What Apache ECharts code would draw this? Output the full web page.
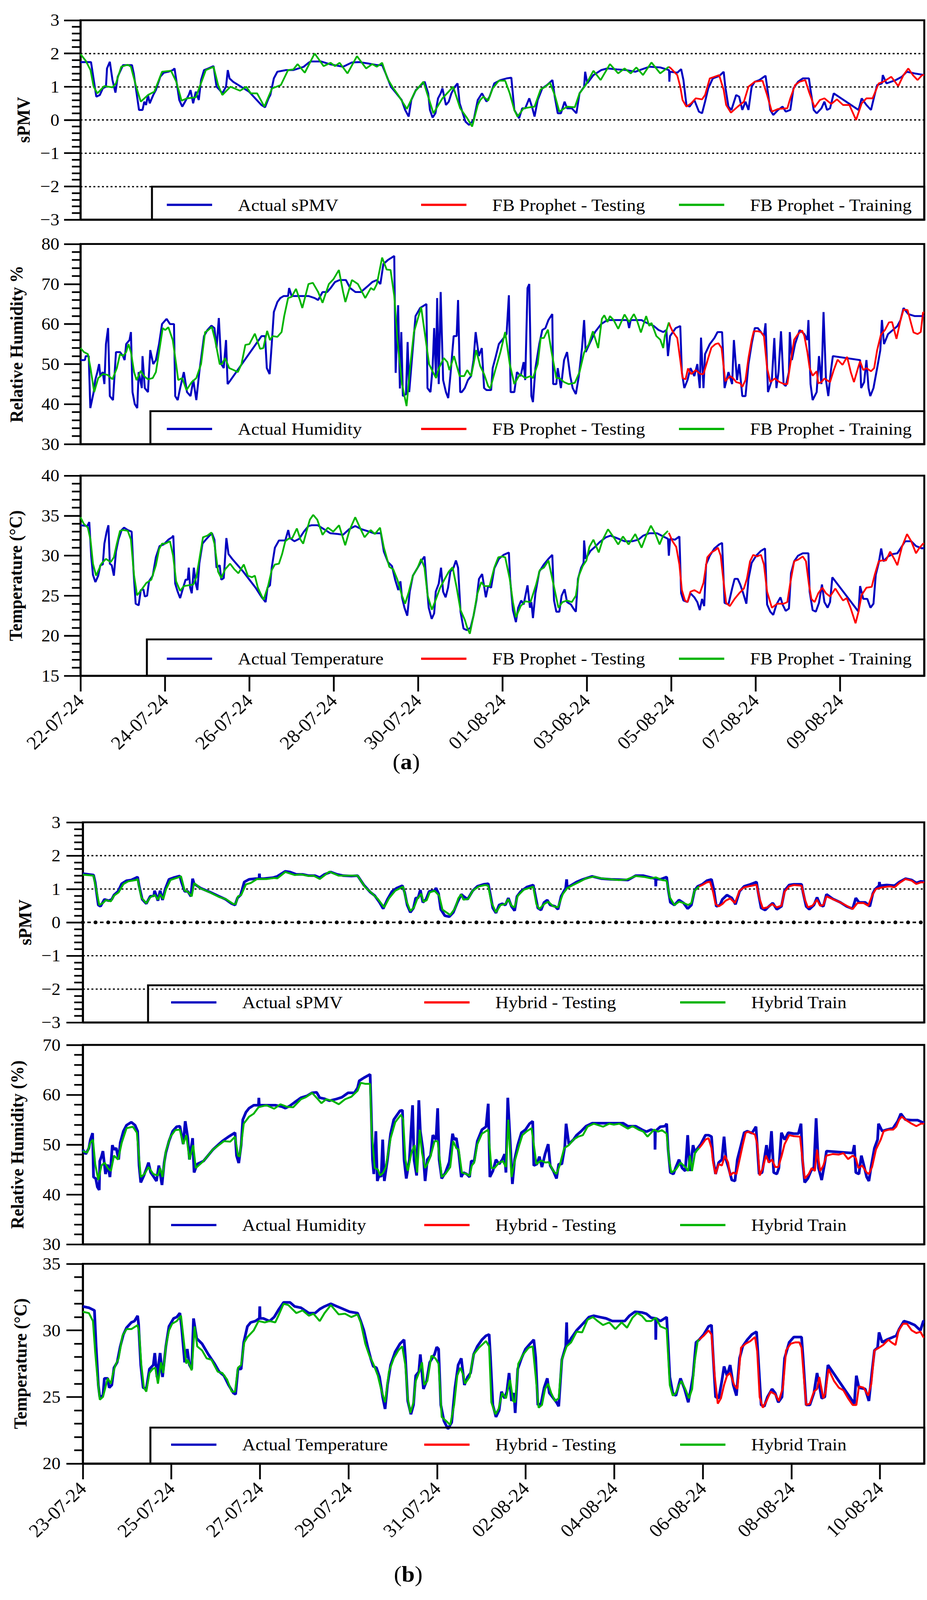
<!DOCTYPE html>
<html><head><meta charset="utf-8">
<script src="https://cdn.jsdelivr.net/npm/echarts@6/dist/echarts.min.js"></script>
<style>html,body{margin:0;padding:0;overflow:hidden;background:#fff}#c{width:2373px;height:4269px;transform-origin:0 0}</style>
</head><body><div id="c"></div>
<script>
// ---------- tick labels ----------
const tickHours = [0,48,96,144,192,240,288,336,384,432];
const datesA = ['22-07-24','24-07-24','26-07-24','28-07-24','30-07-24','01-08-24','03-08-24','05-08-24','07-08-24','09-08-24'];
const datesB = ['23-07-24','25-07-24','27-07-24','29-07-24','31-07-24','02-08-24','04-08-24','06-08-24','08-08-24','10-08-24'];

// ---------- panel (a): [hours since 22-07-24 00:00, value] ----------
const aPmvActual = [[0,1.74],[6,1.74],[9,0.70],[11,0.75],[12.7,0.95],[14.5,1.0],[15.1,1.55],[16.7,1.75],[18.2,1.2],[19.9,0.82],[21.2,1.3],[24.2,1.65],[29.3,1.65],[30.3,1.4],[33.3,0.3],[35.3,0.3],[36.3,0.55],[37.3,0.45],[38.4,0.75],[39.4,0.5],[41.4,0.75],[42.9,0.9],[45.4,1.3],[47.4,1.42],[50,1.45],[52.5,1.5],[53.5,1.55],[56.2,0.6],[57.9,0.4],[59.5,0.55],[61.6,0.75],[62.6,0.9],[64.1,0.5],[65.6,0.85],[67.3,0.6],[68.6,1.2],[70.3,1.5],[72.7,1.55],[75.7,1.62],[77.4,1.0],[79.2,0.9],[80.7,0.8],[82.8,1.0],[83.8,1.5],[84.8,1.25],[86.8,1.15],[95.9,0.85],[102.9,0.45],[105,0.38],[107,0.65],[108,0.75],[110,1.25],[112,1.45],[117,1.5],[121,1.5],[124,1.55],[127,1.6],[129.7,1.72],[131,1.76],[136.8,1.76],[142.3,1.67],[149.4,1.6],[154.4,1.73],[158.5,1.74],[163.5,1.7],[168.6,1.65],[171.6,1.65],[173.6,1.4],[176.6,1.0],[179.7,0.8],[182.7,0.6],[184.7,0.3],[186.7,0.1],[188.2,0.6],[190.8,0.9],[193.8,1.05],[195.8,1.15],[197.8,0.8],[198.8,0.3],[200.3,0.07],[201.9,0.2],[203.4,0.65],[204.9,0.8],[205.9,0.95],[207.9,0.45],[209.5,0.55],[211,0.8],[213,1.0],[214.5,1.1],[215.7,0.5],[217.5,0.2],[219,-0.05],[221,-0.15],[223.7,0.0],[226,0.6],[228.4,0.8],[231,0.55],[232.7,0.7],[235.4,1.1],[238.9,1.2],[242.4,1.25],[245.1,1.27],[246.8,0.3],[249.5,0.05],[251.3,0.35],[253,0.35],[255.3,0.65],[257.1,0.35],[258.3,0.1],[260.1,0.6],[262.7,0.95],[265.4,1.05],[268.5,1.2],[269.8,0.7],[271.5,0.2],[273.3,0.2],[275.4,0.55],[276.8,0.35],[279.5,0.35],[282.1,0.2],[283.9,0.8],[286.5,1.0],[287.1,1.45],[288.3,1.1],[291.8,1.35],[296.2,1.5],[299.8,1.55],[305.1,1.52],[310.4,1.5],[315.6,1.45],[319.2,1.52],[323.6,1.6],[329.8,1.58],[334.8,1.5],[335,1.15],[335.3,1.45],[339.5,1.42],[341.7,1.53],[343,1.2],[344.7,0.45],[346.5,0.4],[349.2,0.6],[351.8,0.25],[353.6,0.2],[355.3,0.55],[357.1,0.95],[359.7,1.25],[363.3,1.32],[365.9,1.45],[366.8,1.0],[368.6,0.4],[370.3,0.3],[373,0.75],[374.7,0.7],[376.5,0.3],[378.3,0.55],[380,0.3],[381.8,1.0],[383.6,1.15],[386.2,1.2],[389.7,1.33],[390.6,1.0],[392.4,0.3],[394.1,0.15],[396.8,0.3],[399.4,0.4],[401.2,0.25],[403.8,0.3],[405.6,0.95],[408.2,1.15],[410.9,1.25],[414.4,1.25],[415.3,0.9],[417.1,0.3],[418.8,0.2],[421.5,0.35],[423.2,0.55],[424.7,0.3],[426.4,0.35],[428.5,0.8],[442.6,0.3],[444.4,0.65],[447.1,0.45],[449.7,0.3],[451.5,0.7],[453.2,1.05],[455.9,1.1],[456.4,1.35],[458.5,1.1],[463.8,1.2],[467.3,1.3],[470,1.45],[474.4,1.4],[480,1.35]];
const aPmvTrain = [[0,1.98],[3,1.78],[5.7,1.5],[7.5,1.0],[9.6,0.8],[13.6,1.02],[18.2,0.98],[20.2,1.1],[23.2,1.6],[26.9,1.66],[28.7,1.6],[31.7,1.0],[34.3,0.55],[38.4,0.75],[42,0.85],[46.4,1.45],[51.5,1.48],[54.5,1.15],[57.5,0.58],[60.6,0.65],[65.6,0.68],[71.3,1.5],[75.7,1.6],[78.3,1.05],[80.7,0.75],[85.3,1.0],[90.8,0.88],[94.3,1.0],[96.9,0.8],[100.5,0.8],[104.6,0.4],[109,0.95],[114,1.05],[118.1,1.5],[121.1,1.52],[123.5,1.68],[127.6,1.42],[133.2,2.0],[138.3,1.62],[142.3,1.72],[144.8,1.62],[147.4,1.72],[151.9,1.4],[157.3,1.92],[162.5,1.55],[166,1.68],[168.6,1.6],[171.6,1.72],[174.6,1.25],[177.6,0.98],[180.7,0.75],[185.7,0.33],[190.3,0.85],[195.1,1.15],[200.8,0.2],[205.9,0.65],[212,1.0],[216,0.35],[220,0.05],[222.8,-0.2],[226,0.45],[227.4,0.6],[229.2,0.7],[231.9,0.58],[234.5,0.95],[238,1.18],[241.6,1.18],[244.2,0.8],[246.8,0.3],[248.6,0.1],[252.1,0.35],[255.7,0.38],[258.3,0.4],[261.8,0.92],[264.5,1.0],[267.1,1.12],[269.8,0.75],[272.4,0.25],[276.8,0.4],[281.2,0.38],[283.9,0.8],[287.4,1.05],[291.8,1.48],[295.9,1.2],[301.2,1.68],[305.9,1.4],[309.5,1.55],[313,1.4],[316.2,1.58],[320,1.35],[324.8,1.73],[329.8,1.4],[334.7,1.6]];
const aPmvTest = [[334.7,1.6],[335.9,1.55],[339.5,1.35],[341.2,1.0],[342.5,0.6],[344.7,0.4],[347.4,0.5],[350,0.65],[353.6,0.62],[355.3,0.75],[358,1.25],[363.3,1.35],[365.9,0.9],[367.3,0.45],[370,0.22],[373.9,0.4],[377.4,0.55],[380,1.0],[383.6,1.15],[388,1.18],[390.6,0.75],[393.3,0.25],[396.8,0.33],[402.1,0.35],[403.8,0.65],[406.5,1.05],[409.1,1.15],[412.3,1.2],[414.4,0.85],[417.6,0.38],[420.6,0.6],[423.2,0.65],[427.1,0.48],[430.3,0.62],[433.8,0.45],[437.4,0.45],[441.2,0.0],[444.4,0.5],[447.1,0.65],[450.6,0.65],[454.1,1.1],[456.8,1.15],[461.2,1.3],[465.2,1.02],[468.2,1.35],[470.9,1.55],[473.5,1.35],[476.2,1.2],[478.8,1.35],[480,1.35]];

const aHumActual = [[0,51],[2.5,51],[3,52],[4.7,52],[5.6,39],[7.5,43],[8.4,46],[9.6,48],[10.6,50],[11.3,47],[12.7,48],[13.6,45],[14.5,55],[15.7,59],[16.7,42],[18.5,41],[20.2,53],[22.5,53],[24.2,52],[25.1,51],[26,55],[27.9,56],[28.7,58],[29.6,43],[30.9,40],[32.3,39],[33.1,48],[34.9,44],[35.3,52],[36.6,44],[38.4,43],[39.7,53.5],[41.4,50],[42.9,51],[44.7,55],[46.4,60],[49,61.3],[50.9,60],[53.2,60],[53.9,42],[55.3,41],[56.7,44],[58.8,48],[60.6,43],[62.6,42],[64.2,46],[65.9,41],[67.6,48],[69.1,53],[70.3,57],[72.2,58.5],[74.5,59.6],[76.2,59],[77.4,54],[78.7,61.5],[80.1,50],[81.5,49],[82.8,56],[83.7,45],[85.4,46],[103,57],[105,57],[106,49],[107.6,47.5],[108.8,55],[110,63],[112,65.5],[113.7,66.5],[115.6,67],[118.1,67],[118.7,69],[120.1,67],[124.1,67],[129.7,67],[133.2,66.5],[135.2,66],[137.7,68],[140.3,68],[142.3,69],[144.8,70.5],[147.4,71],[151,71],[153.4,69],[156.4,68],[159.5,68],[163.5,69.5],[166,70.5],[168.6,71],[170.6,70],[172.3,75],[174.9,76],[178.5,77],[179.3,47.8],[180.7,64.7],[181.7,43.9],[182.5,58],[183.4,42],[185.2,42.5],[186.1,55.5],[187,43],[188.7,52],[190.6,62],[193.2,64],[196.8,65],[197.4,44],[199.1,43],[200.3,49],[201.2,59],[202.2,47],[202.9,66.5],[203.8,45],[204.9,68],[206.3,46],[207.9,43],[209.2,41.5],[210.4,47],[212.3,57],[214,57],[214.8,66],[216,43],[216.9,43],[218.6,44],[220.4,46],[222.2,47],[223.6,51],[224.8,58],[226.6,52],[228.3,54],[229.6,44],[231,43.5],[233.6,43.5],[234.5,49],[236.3,52],[238,55],[239.8,56],[242.4,57.5],[243.7,67.2],[244.7,43],[246.8,43],[248.3,48],[250.4,47],[252.1,50.5],[253,46],[254.3,69],[255.3,70],[256.5,42],[257.4,40.5],[258.8,49],[261,55],[262.7,58.5],[264.5,59],[266.2,61],[268.4,62.5],[268.9,45],[270.7,45],[271.5,49],[273.3,44],[275.1,51],[276.8,53],[278.6,47],[280,44],[281.8,42.5],[283.5,47],[285.3,54],[286.5,61],[287.4,53],[289.5,55],[292.7,58],[296.2,60],[299.8,61],[305.1,61],[311.2,61],[312.1,59],[313,61],[319.2,61],[321,60.5],[326.2,59.5],[328.9,58.5],[331.5,58],[333.3,58.5],[334.2,52],[335.4,57],[338.6,59],[341.2,59.5],[342.1,48],[343.5,44],[345.3,46],[347,49],[349.2,47],[350.9,50],[352.3,44],[353,56.6],[354.4,44],[355.3,52.5],[358,55],[360.6,56.5],[362.4,58],[365,58],[366.4,44],[368.6,48],[370.7,45],[371.7,56],[373.5,46],[374.7,50],[376.5,42],[378.3,42],[380,50],[381.8,55],[383.6,59],[385.3,59],[387.1,58],[388.8,57],[389.7,60.2],[391.1,43],[393.3,46],[394.7,56.5],[395.9,44],[397.1,48],[398.5,58.2],[400,45],[401.2,44.5],[403,48],[403.5,58],[404.7,51],[406.5,55],[409.1,58.5],[411.8,57.5],[413.5,56],[414.1,61],[415.3,45],[416.5,41],[418.8,43],[420.1,52],[421.5,45],[422.7,63],[424.1,46],[425.4,42],[426.8,48],[428,52],[443.5,51],[444.1,44],[445.8,45.5],[447.1,51],[448.3,44],[449.3,42],[451.1,44],[453.2,49],[455,53.5],[455.9,61],[457.1,55],[459.4,57.5],[462.1,58.5],[464.7,59.5],[466.5,61],[468.2,64],[470.9,62.5],[474.4,62],[480,62]];
const aHumTrain = [[0,54],[2,53],[4.2,52.5],[5.7,49],[7.8,43],[10.1,46.5],[12.7,47.5],[15.4,47.3],[18.2,46.2],[20.7,49],[22.5,52.5],[24.2,52],[26,53],[27.3,55],[28.7,53],[30.5,48],[31.9,46],[34.3,48.3],[36.1,47],[38.4,46.2],[41.1,46.5],[42.9,48],[44.7,53],[46.8,59],[48.2,58.5],[50,59.2],[52.5,56],[54.4,50],[55.6,46],[57.9,46.5],[60.3,43.5],[63.3,45.5],[65.9,46.5],[68.6,50],[70.9,58],[72.2,58.3],[74.7,59.3],[76.6,56],[79.2,50],[80.4,50],[82.3,51.5],[84.6,49],[87.2,48.5],[89.5,48],[91.6,50],[93.8,54.8],[96.1,55],[99.2,57.6],[102.2,53.8],[104,54],[106.2,58.3],[107.8,56],[109.3,57],[112,56.8],[114.4,58],[115.9,62],[118.1,66.5],[120.1,66.8],[122.6,68.8],[124.8,66],[126.2,64],[129.7,70],[132.2,70.3],[135.2,68],[137.7,65.3],[141.3,70],[143.9,71.2],[147,73.5],[149.4,68],[150.7,65.5],[154.4,71],[157.8,70],[162,66.5],[165.2,69],[166.9,68.5],[168.6,70],[171.6,76.6],[174.2,73.6],[176.4,73.5],[178.5,67],[180.3,56],[182.9,45],[185.5,39.5],[187.7,50],[189.7,58],[193.8,64.2],[196.1,57],[198.3,50],[200.5,48],[202.3,46.5],[203.9,49],[206.7,51.5],[208.7,50.5],[209.9,48.5],[212.5,52],[215.7,47],[218.3,47],[220,48.5],[222.2,47],[223.6,50],[225.1,53.5],[227.4,49.5],[229.6,47.5],[231.9,44.5],[233.1,43.9],[236.3,49],[238.9,53],[241.6,58],[244.2,50],[246.8,45],[250,47.5],[253,46.5],[256,47],[257.4,46.5],[260.1,50],[261.8,56.5],[263.6,56.5],[265.9,58.6],[268,53],[270.7,46.5],[272.4,46.5],[275.1,45.5],[277.7,45],[281.2,45.3],[283.9,48],[286.5,52.9],[289.2,55],[291.5,58.2],[294.5,54],[296.6,61.3],[298,62.2],[299.8,60.5],[301.2,62],[303.3,61],[305.9,58.8],[309.5,62.4],[312.1,60.5],[314.8,62.5],[316.5,61],[318.8,57.9],[321.8,62],[323.6,59.5],[324.8,60.3],[327.6,57],[329.8,56.1],[331.5,54],[332.4,57],[334.7,60.4]];
const aHumTest = [[334.7,60.4],[335.4,59.5],[336.8,58.2],[339.5,56.5],[341.2,51],[342.5,46.5],[344.2,46.2],[345.6,48.9],[347.4,47.5],[350,48.5],[352.7,47.5],[354.4,47.5],[357.1,51.5],[358.9,54.1],[361.2,55],[362.9,55.2],[364.7,54],[366.8,45.7],[369.4,47],[371.2,46.5],[373,45.5],[375.3,45.2],[376.5,44.3],[378.3,46],[380,51.5],[381.8,56],[383,58.2],[385.3,58.2],[387.1,58],[388.8,57],[390.6,49],[392.4,45.5],[395,46.4],[397.7,45.5],[400.3,45],[402.1,45],[403.8,50],[406,56.1],[408.2,57.5],[410.5,58.4],[411.8,57],[413.5,53],[414.8,49],[416.5,47.1],[418.8,48.2],[419.7,45.2],[421.5,45.5],[423.2,46.4],[426.4,45.5],[428.5,48.5],[430.7,51.1],[433.5,49.8],[436.1,51.8],[438.2,48],[440,45.5],[442.3,49],[443.5,50.7],[445.3,48.5],[447.1,49],[449.7,48.2],[451.5,49],[453.2,53.5],[455.3,57.3],[457.6,58.5],[459.9,60.4],[461.7,60.5],[464.2,56.3],[466.5,61],[468.2,63.6],[470.5,63.5],[472.6,60],[473.9,57.9],[476.2,57.5],[478,58],[479.3,62.9],[480,62.9]];

const aTmpActual = [[0,33.8],[3.9,33.7],[5,34.2],[6.1,30],[7.1,27.6],[8.5,26.7],[10.1,27.5],[11.3,28.8],[12.7,28.9],[13.6,31.5],[14.9,33],[15.9,33.8],[16.7,29],[17.8,28.8],[19,27.5],[20.2,30.5],[21.6,32],[23.4,33.2],[24.8,33.5],[26.9,33.2],[29.1,33],[30.2,28],[31.4,24],[33.1,23.8],[34.3,25.7],[35.8,25.8],[36.6,24.9],[37.9,25],[39,26.8],[41.1,27.5],[42.9,29.8],[45,31.2],[47.3,31.4],[50,32],[52.1,32.3],[52.8,32.5],[53.9,26.5],[55.3,25.5],[56.7,24.7],[58.4,26],[59.8,27],[61,27],[61.6,28.5],[62.4,26],[63.3,25.3],[64.5,28.5],[65.6,26.5],[66.5,25.7],[67.6,29],[69.4,31.5],[71.3,32],[73.4,32.5],[74.8,32.8],[76.2,32],[77.4,28.5],[79.2,28.8],[80.1,27],[81.5,27.2],[83,32.2],[84.2,30.2],[86.3,29.6],[92.6,28],[96.1,27],[99.6,26],[103.1,24.8],[105.3,24.2],[106.4,26],[107.8,26.3],[108.8,28.5],[110.6,31],[112.9,31.9],[116.5,31.9],[118.2,33.2],[119.1,32.2],[121.7,31.8],[124.4,32.1],[127.1,33],[129.7,33.7],[131.5,33.8],[135,33.8],[138.6,33.3],[142.1,32.8],[146.6,32.7],[149.3,32.6],[152.8,33.3],[156.3,33.7],[159.9,33.3],[164.3,33],[166.9,32.8],[170.9,32.8],[172.6,30.5],[174.9,29.2],[177.2,28.7],[179,27],[180.8,25.7],[182,26.8],[182.9,24.8],[184.3,23.5],[185.9,22.5],[187.3,25.5],[189.1,27.5],[191.8,28.5],[194.4,29.5],[195.7,29.9],[196.7,27],[198.1,23.5],[199.8,22.1],[201.2,22.8],[202.1,25.5],[203.8,26.5],[205.1,28.5],[206.3,25.5],[207.7,24.8],[209.1,26],[210.4,28],[212.2,28.5],[213.6,29.4],[214.8,28.5],[216.2,23],[217.9,20.9],[219.7,20.7],[221.9,21],[223.6,22.5],[225.3,24.5],[226.7,27.1],[228.5,27.7],[230.6,24.8],[231.9,26.2],[233.6,26.0],[235.4,28.4],[238,29.6],[240.7,30.1],[243.7,30.4],[244.4,27.1],[246,23.2],[247.7,21.7],[249,23.5],[250.7,24.4],[252.1,23.9],[254.3,26.3],[255.7,23.5],[256.5,24.2],[257.4,22.2],[258.8,25.3],[261,28.0],[263.6,28.9],[266.2,29.6],[268.4,30.1],[269.4,24.4],[270.7,23.0],[272.4,23.0],[273.7,25.0],[275.4,25.8],[276.8,24.2],[279,23.9],[280.4,23.4],[281.8,23.0],[283,27.1],[284.8,28.5],[286.2,29.1],[286.5,31.9],[287.4,29.6],[290.1,30.6],[292.7,31.1],[295.4,31.7],[298.9,32.3],[301.5,32.5],[305.1,32.2],[309.5,31.8],[313.9,31.8],[317.4,32.0],[320.1,32.5],[323.6,32.8],[328,32.8],[331.5,32.4],[334.2,32.1],[334.7,30.0],[335.4,32.1],[338.2,32.0],[340.7,32.4],[341.7,25.3],[343,24.4],[345.3,24.2],[347,25.3],[349.2,24.8],[350.9,24.2],[352.3,23.2],[353.6,24.6],[354.8,23.7],[355.9,28.9],[358,30.0],[360.6,30.9],[363.3,31.4],[365,31.6],[366.4,24.1],[368.6,23.9],[370.7,25.9],[372.1,27.1],[373.9,27.1],[375.3,26.4],[377,25.3],[378.8,24.0],[380,27.1],[381.8,29.1],[384.4,30.0],[387.1,30.6],[389.4,30.9],[390.6,23.9],[392.4,23.0],[394.1,22.6],[395.9,23.9],[398.2,24.8],[399.4,23.9],[401.2,23.1],[403,23.4],[404.2,27.8],[406,29.3],[408.2,30.0],[410.9,30.3],[414.1,30.3],[414.8,25.5],[416.5,23.2],[418.3,23.0],[420.1,24.1],[421.8,26.4],[423.2,24.2],[425,23.5],[426.4,24.2],[427.7,27.3],[442.6,23.0],[443.5,26.2],[445.3,24.6],[447.6,24.6],[449.4,23.5],[451.1,24.0],[452.4,27.6],[454.1,29.1],[455.5,30.9],[456.8,29.3],[459.4,29.9],[462.1,30.2],[464.7,30.3],[466.5,30.9],[469.1,31.8],[472.6,31.8],[475.3,31.2],[478.8,30.9],[480,31.0]];
const aTmpTrain = [[0,34.8],[1.8,34],[4.2,33.5],[5.7,32],[7.1,29],[8.9,27.5],[11.9,29],[14.5,29.6],[17.2,29.2],[19,29.8],[20.7,31.5],[22.5,33.1],[24.2,33.2],[26.9,33.1],[28.7,32],[30.5,27.5],[32.2,25.05],[34.9,25.8],[37.5,26.6],[40.3,27],[42.9,28.8],[44.7,30.8],[46.4,31.5],[48.2,31.5],[50.9,31.8],[52.7,30],[54.4,26.8],[56.7,25.6],[58.8,26.2],[61.5,26.3],[64.2,26.4],[65.9,27.3],[67.6,29.5],[69.7,32.3],[72.2,32.5],[74.5,32.9],[76.2,31.5],[78.3,28],[80.1,27.2],[82.3,28.3],[85.1,29],[87.5,28.3],[89.8,27.8],[92.9,28.9],[95.2,27.5],[97.5,27.3],[99.2,27.5],[100.9,26],[103,25],[104.2,24.5],[106.7,26.2],[108.8,28.2],[110.6,28.9],[112.9,29],[114.7,30.2],[116.5,31.8],[118.2,32.1],[120.5,32.2],[123.1,33.4],[125.2,32],[126.7,31.5],[128.8,33.2],[130.5,34.5],[132.4,35.1],[134.7,34.5],[137.7,32.6],[140.7,33.5],[143.8,33],[147.1,33.8],[150.6,31.3],[153.1,33.2],[156.3,34.8],[159,33.5],[161.6,32.3],[165.1,33.2],[167.5,32.7],[170.4,33.5],[172.6,31],[175.7,28.6],[177.9,28.3],[180.3,27],[182.9,25],[184.7,24],[186.8,25.5],[189.1,27.5],[191.8,28.5],[193.8,29.6],[195.7,28.5],[197.5,25],[199.9,23.25],[202.1,24.5],[204.6,26],[207,27],[209.5,28],[211.7,28.55],[214,26],[216.2,23.2],[218.6,22],[220,21],[221.5,20.25],[223.6,22.5],[225.7,25.2],[228,26.7],[229.7,26.2],[232.7,26.2],[235.4,28.5],[237.7,29.8],[239.8,29.9],[241.6,29.8],[244.2,27.1],[246,24.2],[247.7,22.3],[250.4,23.7],[253,24.3],[256,24.2],[259.2,26.4],[261.3,28.2],[263.6,28.5],[266.2,29.4],[268.9,26.6],[271.9,23.5],[274.2,24.2],[276.8,24.4],[279.5,24.2],[281.8,25.0],[283.5,27.5],[285.7,28.7],[287.8,29.4],[289.5,31.1],[291.8,32.0],[294.8,30.4],[297.1,32.0],[300.1,33.3],[303.3,32.3],[305.9,31.4],[308.6,32.4],[311.8,31.4],[315.6,32.7],[319.2,31.0],[321.8,32.5],[324.5,33.75],[327.1,32.7],[329.4,31.4],[331.5,32.5],[334.2,33.1]];
const aTmpTest = [[334.7,32.85],[336.8,31.8],[338.9,31.1],[340.7,28.9],[342.1,25.7],[343.9,24.4],[345.3,24.2],[347,25.5],[349.2,25.7],[352.3,25.3],[354.4,26.6],[356.6,29.8],[358.9,30.4],[361.2,30.7],[362.6,31.0],[364.2,30.0],[365.9,26.6],[367.3,24.1],[369.4,23.7],[372.1,24.6],[374.7,25.3],[377.4,25.9],[379.1,27.1],[380.9,29.3],[382.7,30.1],[384.8,29.9],[387.1,30.1],[388.8,28.9],[390.6,25.5],[393.3,23.5],[396.4,24.0],[400,24.0],[402.1,24.2],[403.8,26.6],[406,29.3],[408.2,29.5],[410.9,29.9],[412.7,29.3],[414.4,26.4],[415.8,24.6],[417.6,24.2],[419.7,25.3],[422,26.0],[424.1,25.3],[426.4,24.9],[429.4,25.9],[431.7,25.1],[433.8,24.4],[435.9,24.7],[438.2,23.4],[440.9,21.55],[442.6,23.0],[444.4,25.1],[447.1,26.0],[450.1,26.1],[451.8,27.6],[454.1,29.3],[455.9,29.4],[458.2,29.4],[460.6,30.5],[462.9,29.6],[464.7,28.8],[467.3,31.1],[470.2,32.7],[472.6,31.8],[475.3,30.3],[477,30.9],[479.3,31.5],[480,31.5]];

// ---------- panel (b): [hours since 23-07-24 00:00, value] ----------
const bPmvActual = [[0,1.46],[5.8,1.42],[6.7,1.2],[8.4,0.52],[9.6,0.48],[11.7,0.69],[14,0.65],[15.7,0.69],[16.9,0.82],[19.1,0.93],[21.1,1.16],[23.7,1.25],[26.3,1.27],[29.7,1.36],[30.5,1.1],[32.2,0.69],[34.4,0.56],[36.5,0.78],[38.5,0.80],[38.9,0.95],[40.7,0.65],[41.9,0.95],[43.2,0.67],[44.6,0.99],[46.7,1.29],[49.2,1.34],[52.6,1.39],[53.5,1.2],[55.2,0.93],[56.9,0.93],[58.6,0.78],[59.5,1.31],[60.3,1.16],[63.7,1.03],[68.8,0.91],[73.9,0.78],[77.4,0.69],[80.7,0.56],[82.5,0.52],[83.8,0.73],[85.5,0.82],[87.5,1.21],[90.1,1.29],[93.5,1.31],[95.5,1.31],[95.7,1.46],[95.9,1.31],[97.8,1.31],[102.9,1.34],[105.4,1.38],[109.7,1.53],[112.3,1.51],[115.7,1.44],[119.1,1.44],[122.5,1.40],[125.9,1.40],[128.4,1.34],[131,1.44],[134.4,1.51],[137.8,1.44],[141.2,1.40],[145.5,1.39],[148.9,1.40],[152.3,1.12],[155.7,0.91],[158.2,0.80],[160.8,0.60],[162.8,0.41],[165.1,0.69],[167.6,0.93],[170.2,1.03],[173.2,1.10],[174.4,0.9],[175.8,0.52],[177.5,0.30],[179.2,0.43],[180.4,0.73],[181.7,0.73],[182.9,0.97],[184.3,0.60],[186,0.69],[187.7,0.93],[190.6,0.95],[191.4,1.03],[192.8,0.86],[194,0.39],[196.2,0.20],[198.6,0.17],[200.8,0.30],[203,0.60],[205.1,0.84],[206.4,0.78],[208.5,0.69],[211.3,0.95],[213.8,1.08],[217.2,1.14],[219.7,1.16],[220.6,0.9],[222.2,0.43],[223.9,0.28],[225.6,0.52],[227.3,0.56],[229,0.52],[230.6,0.73],[232.3,0.48],[234,0.35],[235.3,0.78],[237.4,0.93],[240.7,1.06],[244.1,1.12],[244.9,0.9],[246.6,0.43],[248.3,0.37],[250,0.60],[251.7,0.67],[253.3,0.52],[255.9,0.48],[257.5,0.39],[259.2,0.78],[261.7,1.03],[262.2,1.29],[262.5,1.05],[264.3,1.10],[267.6,1.21],[271,1.29],[276,1.38],[281.1,1.31],[286.1,1.29],[291.2,1.28],[295.4,1.27],[299.6,1.40],[303.8,1.40],[308,1.34],[310.4,1.31],[310.5,1.08],[310.7,1.31],[313,1.29],[316.4,1.36],[317.2,1.0],[318.4,0.60],[320.6,0.52],[323.1,0.67],[325.6,0.58],[327.8,0.41],[329.8,0.52],[331.5,0.95],[333.2,1.08],[335.7,1.14],[338.2,1.25],[340.7,1.29],[341.9,1.0],[343.3,0.48],[345.3,0.52],[346.6,0.69],[349.1,0.82],[351.7,0.73],[353.7,0.54],[355.9,0.93],[358.4,1.08],[361.8,1.14],[365.1,1.21],[366,0.9],[367.6,0.43],[369.8,0.37],[371.8,0.48],[373.9,0.58],[376.1,0.39],[378.6,0.48],[380.3,0.95],[382.8,1.12],[385.3,1.14],[389.5,1.14],[390.3,0.9],[392,0.48],[393.7,0.39],[396.2,0.52],[397.9,0.75],[399.6,0.52],[401.3,0.48],[403,0.84],[406.3,0.71],[410.5,0.60],[413.9,0.48],[417.2,0.41],[418.9,0.73],[420.6,0.60],[424,0.60],[426.5,0.48],[428.1,0.86],[429.3,0.99],[431.5,1.10],[431.7,1.21],[432,1.10],[435.7,1.12],[439.9,1.10],[442.5,1.21],[445.8,1.31],[449.2,1.27],[451.7,1.18],[454.2,1.23],[456,1.22]];
const bPmvTrain = [[0,1.43],[5.8,1.40],[8.9,0.52],[10.9,0.58],[12.5,0.67],[15.2,0.63],[16.9,0.80],[19.4,0.90],[22,1.15],[24.6,1.23],[28.8,1.27],[29.7,1.30],[31.7,0.75],[34.4,0.57],[36.5,0.75],[39,0.82],[40.7,0.68],[41.9,0.85],[43.6,0.70],[45,0.98],[47.5,1.27],[51.8,1.35],[53.2,1.38],[55.2,0.95],[56.9,0.92],[59,0.78],[60.3,1.18],[63.7,1.02],[68.8,0.90],[73.9,0.76],[77.4,0.70],[81.6,0.55],[82.8,0.55],[84.1,0.78],[85.8,0.82],[88.4,1.14],[91,1.18],[94.4,1.30],[99.5,1.30],[103.7,1.33],[105.4,1.32],[109.7,1.51],[114.8,1.42],[118.2,1.44],[122.5,1.39],[125,1.40],[128.4,1.30],[133.6,1.52],[138.7,1.40],[143.8,1.40],[148.9,1.40],[153.1,1.05],[156.5,0.88],[159.9,0.70],[163.3,0.45],[165.9,0.72],[169.3,0.95],[173.6,1.07],[175.3,0.65],[177.5,0.34],[179.5,0.45],[181.2,0.70],[183.4,0.86],[184.6,0.62],[186.3,0.66],[188,0.90],[190.6,0.95],[193.1,0.80],[194.9,0.38],[199.1,0.22],[201.7,0.42],[203.5,0.72],[205,0.84],[206.3,0.68],[208.8,0.70],[211.3,0.95],[214.7,1.08],[218,1.12],[219.7,1.10],[221.4,0.60],[223.9,0.30],[226.4,0.52],[229,0.55],[230.6,0.70],[232.3,0.50],[234,0.45],[235.7,0.80],[239,0.98],[244.1,1.07],[245.8,0.55],[247.4,0.40],[250,0.55],[252.2,0.62],[255,0.48],[257.5,0.45],[260.1,0.85],[262.6,1.03],[266,1.13],[269.3,1.22],[272.7,1.32],[276.9,1.37],[281.1,1.32],[286.1,1.29],[290.3,1.27],[294.5,1.28],[299.6,1.39],[304.6,1.36],[308,1.32],[310.5,1.35],[313.8,1.27],[316.4,1.25],[318.1,0.75],[320.6,0.52],[323.1,0.62],[325.6,0.58],[328.1,0.52],[329.8,0.58],[331.5,0.95],[334,1.08]];
const bPmvTest = [[334,1.08],[335.7,1.12],[338.2,1.20],[339.9,1.22],[341.6,0.90],[342.9,0.55],[344.6,0.48],[346.6,0.55],[348.3,0.65],[350.8,0.72],[353.4,0.58],[355.9,0.95],[358.4,1.05],[362.6,1.10],[365.1,1.13],[366.8,0.70],[368.5,0.42],[371,0.45],[373.5,0.55],[376.1,0.45],[378.6,0.50],[380.3,0.92],[382.8,1.08],[385.3,1.12],[389.5,1.10],[391.2,0.70],[392.9,0.45],[395.4,0.50],[397.9,0.68],[399.6,0.50],[401.3,0.52],[403,0.78],[407.1,0.68],[410.5,0.60],[413.9,0.50],[417.2,0.40],[419.8,0.58],[423.1,0.58],[425.6,0.50],[428.1,0.85],[429.8,1.00],[433.2,1.05],[437.4,1.08],[439.9,1.05],[442.5,1.18],[445.8,1.30],[449.2,1.25],[451.7,1.15],[454.2,1.20],[456,1.20]];

const bHumActual = [[0,49.0],[1.6,48.1],[3.3,49.3],[4.1,51],[5.3,52.3],[5.8,43.5],[7,43.2],[7.9,41.5],[8.9,40.9],[9.2,46.7],[10.1,47.6],[10.9,48.7],[12.3,44.1],[13.5,46],[14.7,43.5],[16,49.9],[16.9,49.0],[18.1,49.3],[19.4,47.0],[20.3,50.4],[22,52.7],[23.7,53.9],[26.3,54.5],[28.3,53.9],[29.7,52.7],[30.5,45.8],[31.4,42.4],[33.1,43.8],[34.8,45.5],[35.6,46.4],[36.8,44.4],[38.5,43.5],[39.9,42.7],[41.2,45.8],[42.9,41.9],[44.1,46.4],[45,48.4],[46.7,50.7],[48.7,52.7],[50.9,53.6],[52.6,53.7],[53.5,51.9],[54.4,50.1],[55.5,54.7],[56.9,51.3],[57.8,47.0],[59.5,51.3],[60.3,44.4],[62,46.1],[65.4,46.7],[70.5,49.0],[75.6,50.7],[79,51.6],[82.5,52.4],[83.3,47.8],[84.5,46.3],[85.8,49.9],[86.7,55.0],[88.4,56.5],[90.1,57.3],[92.6,57.9],[95.2,57.9],[95.4,59.4],[95.6,57.9],[97.8,57.9],[101.2,57.9],[104.6,57.9],[108,57.6],[109.7,57.3],[112.3,57.8],[114.8,58.5],[118.2,59.4],[121.6,59.8],[124.2,60.4],[126.7,60.5],[128.4,59.4],[131,59.2],[133.6,58.8],[137,59.1],[140.4,59.5],[143.8,60.4],[147.2,60.4],[148.9,61.4],[149.8,62.8],[152.3,63.4],[155.7,64.1],[156.2,58],[157,47.0],[157.7,44.1],[158.8,52.7],[159.6,42.7],[160.8,44.1],[161.7,43.5],[162.5,51.0],[163.4,42.7],[165.1,47.0],[166.8,52.2],[168.5,55.0],[170.2,55.9],[171.9,56.8],[173.2,56.9],[174.1,47.0],[175.3,43.2],[177,47.0],[178.7,57.9],[179.5,47.0],[180.9,43.8],[182.1,58.9],[182.9,52.7],[184.3,49.0],[185.5,42.7],[186.7,47.0],[188.4,47.8],[189.7,51.9],[191.4,51.0],[192.3,57.3],[193.1,47.0],[194.5,43.2],[196.5,44.4],[198.6,46.5],[200.4,52.2],[201.2,51.0],[202.4,51.3],[203.7,48.4],[205.1,43.5],[206.3,44.4],[208,44.1],[209.6,43.5],[210.5,46.7],[212.1,46.7],[213.8,50.7],[216.3,53.0],[218.5,53.6],[219.7,58.2],[220.6,43.5],[222.2,44.7],[223.9,47.0],[225.6,46.1],[227.3,47.0],[228.6,48.1],[229.3,44.4],[230.3,59.4],[231.5,51.3],[232.8,42.1],[234,47.0],[235.7,49.9],[237.7,52.4],[239.9,53.0],[242.1,54.2],[243.8,54.7],[244.4,45.8],[246.1,46.1],[247.4,47.6],[248.8,45.5],[250.5,48.1],[252.2,50.1],[253.3,45.8],[255,44.7],[256.7,43.2],[257.9,46.1],[259.6,46.1],[261.2,49.6],[261.9,54.2],[263.4,50.1],[265.9,51.0],[267.6,51.9],[270.1,52.7],[272.7,53.7],[276,54.3],[292.8,54.3],[295.4,53.7],[299.6,53.7],[303,53.0],[305.4,52.6],[308,53.0],[310,52.7],[310.1,49.0],[310.3,52.7],[313,53.6],[315.5,53.7],[316.4,54.2],[317.2,49],[318.4,44.4],[320.1,44.1],[321.4,45.5],[323.1,47.0],[324.8,45.3],[326.5,44.7],[327.8,51.9],[329,44.7],[330.7,49.9],[331.8,48.4],[333.2,49.3],[334.9,50.1],[337.4,51.9],[339.1,51.9],[340.7,51.6],[341.6,47.0],[342.9,44.1],[344.6,46.4],[346.3,47.0],[347.5,51.6],[348.6,47.0],[350,45.3],[351.7,42.9],[353.4,42.7],[354.7,47.0],[356.7,49.9],[358.4,52.4],[360.1,52.7],[362.6,52.3],[364.8,53.6],[366.5,44.1],[368.1,44.4],[369.3,47.0],[370.5,49.9],[371.8,46.4],[373.2,52.7],[374.4,44.4],[376.1,44.1],[377.2,45.3],[378.6,52.4],[380.3,51.0],[382.3,52.4],[385.3,52.2],[387.8,52.2],[389.2,54.2],[390,47.0],[391.2,42.4],[392.9,43.2],[394.6,44.7],[396.2,45.5],[397.4,55.3],[398.7,45.3],[400.4,42.9],[402.1,46.4],[403,48.7],[417.2,48.3],[418.1,49.9],[418.9,44.4],[420.6,44.1],[421.9,47.8],[423.1,46.1],[424.8,43.5],[426,42.7],[427.3,45.8],[429,49.3],[430.7,51.0],[431.2,54.2],[433.2,52.7],[435.7,53.0],[439.1,53.3],[441.6,54.7],[443.3,56.2],[445.8,55.0],[449.2,54.9],[452.5,54.9],[456,54.3]];
const bHumTrain = [[0,48.7],[2.4,48.4],[4.1,50.4],[5.5,51.0],[6.7,46.1],[8.4,42.9],[10.1,45.8],[11.8,46.4],[13.5,45.3],[15.2,44.7],[16.9,47.8],[19.1,47.0],[21.1,50.4],[23.7,53.3],[27.1,53.6],[29.3,52.4],[31.4,43.5],[33.4,44.1],[35.6,45.5],[38.2,44.1],[40.7,43.8],[41.9,45.3],[43.2,43.5],[45,48.7],[47.5,51.6],[50.1,52.9],[52.6,53.0],[54.4,50.1],[56.1,51.9],[57.8,47.0],[59.8,49.9],[61.2,45.3],[65.4,46.7],[70.5,49.0],[76.5,50.7],[79.9,50.6],[82.5,51.6],[84.1,47.8],[85,47.6],[87.2,54.2],[90.1,55.6],[92.6,56.2],[95.2,57.5],[99.5,57.9],[103.7,57.2],[107.1,58.1],[110.5,57.6],[114,57.5],[118.2,59.1],[120.8,59.5],[124.2,60.4],[126.7,59.4],[129.3,58.3],[131.8,59.1],[135.2,58.8],[138.7,58.1],[142.1,59.1],[145.5,59.6],[148.9,60.8],[150.6,62.4],[153.1,62.2],[155.7,62.2],[156.5,52.7],[158.2,45.3],[159.9,45.0],[161.1,43.8],[162.8,44.4],[164.2,45.5],[166.8,51.3],[169.3,54.5],[172.4,56.0],[173.6,55.0],[174.8,47.0],[176.1,44.7],[178.1,48.4],[179.8,49.9],[181.2,44.4],[182.6,53.0],[183.8,48.4],[185.5,45.3],[186.7,46.1],[188.4,47.6],[190.6,50.7],[192.3,50.7],[194.5,43.5],[196.5,44.1],[199.1,45.5],[200.7,50.7],[202.4,49.3],[203.7,49.0],[205.4,44.4],[208,44.1],[209.6,43.7],[210.8,45.8],[212.1,46.4],[213.8,50.1],[216.3,52.2],[219.7,53.0],[221.4,45.3],[223.1,45.3],[225.6,46.4],[227.6,46.7],[229.3,45.5],[230.6,55.0],[232.3,43.5],[234.3,47.0],[236.5,49.9],[238.2,51.9],[240.7,52.7],[243.2,53.3],[245.8,46.1],[248.3,46.8],[250.8,46.4],[252.5,46.5],[255,44.7],[256.7,44.1],[258.4,45.8],[260.9,49.3],[263.4,49.9],[265.9,51.0],[268.5,51.6],[271,51.9],[273.5,53.6],[276.9,54.2],[281.9,53.6],[285.3,54.2],[287.8,54.0],[290.8,54.2],[295.4,53.2],[297.9,53.7],[301.2,53.0],[303.8,52.6],[306,51.6],[309.6,53.0],[311.7,52.6],[313.8,52.9],[316.4,52.2],[317.7,47.0],[318.9,44.4],[321.4,45.0],[323.9,46.4],[326.5,45.5],[328.1,44.7],[329,47.8],[330.1,44.7],[331.8,48.4],[333.2,49.0],[334,49.3]];
const bHumTest = [[334,49.3],[335.7,50.1],[337.4,51.0],[339.1,51.3],[340.7,49.3],[341.6,46.4],[342.9,44.1],[344.6,46.1],[346.3,45.8],[348,47.8],[349.7,46.4],[350.8,43.8],[352.5,44.4],[354.2,44.1],[355.9,47.0],[357.6,49.9],[359.2,52.4],[360.9,52.6],[364.3,52.0],[365.6,49.9],[366.8,43.8],[368.5,45.3],[370.2,47.8],[371.8,46.4],[373.5,47.0],[375.2,45.5],[376.9,45.5],[378.6,47.6],[380.3,50.1],[382.8,51.9],[385.3,51.7],[388.7,51.6],[390,47.0],[391.2,43.2],[393.4,44.1],[395,45.3],[396.7,44.7],[397.9,49.0],[399.6,44.7],[401.3,45.8],[403,47.8],[406.3,48.1],[409.7,48.0],[412.2,48.3],[414.7,47.1],[417.2,47.8],[418.9,47.3],[420.3,45.3],[422.3,45.8],[424.8,44.4],[426,44.1],[427.7,45.5],[429.8,49.0],[432.4,51.0],[434,52.7],[436.6,53.0],[439.1,53.0],[440.8,53.6],[442.4,55.0],[443.8,55.6],[445.8,55.0],[449.2,54.2],[451.7,53.7],[454.2,54.2],[456,54.2]];

const bTmpActual = [[0,31.8],[3.3,31.7],[6.3,31.5],[7.2,28.8],[8.4,25.9],[9.2,25.0],[10.9,25.1],[11.7,26.4],[13.5,26.4],[14.3,25.7],[15.7,25.9],[16.9,27.2],[18.6,27.6],[20.3,28.8],[22,29.7],[23.7,30.2],[26.3,30.6],[28,30.7],[29.7,31.1],[30.2,30.5],[31.4,27.4],[32.7,25.7],[34.4,25.6],[36.1,27.1],[38.2,27.4],[39,28.3],[40.2,26.5],[41.9,28.3],[43.2,26.5],[45,28.8],[46.7,30.3],[49.2,30.9],[50.9,31.0],[52.6,31.3],[53.5,30.3],[55.2,27.6],[56.6,28.6],[57.8,27.4],[59,27.1],[60,30.9],[61.7,29.4],[64.6,29.0],[68,28.2],[71.4,27.5],[73.9,26.9],[76.5,26.6],[79,25.9],[81.6,25.3],[82.8,25.2],[84.1,27.1],[85.8,27.1],[87.2,29.1],[89.2,30.3],[91,30.6],[93.5,30.7],[95.7,30.9],[95.9,31.8],[96.1,30.9],[97.8,30.9],[101.2,30.7],[103.7,31.0],[106.3,31.6],[108.8,32.1],[112.3,32.1],[114.8,31.8],[118.2,31.7],[122.5,31.3],[125.9,31.3],[128.4,31.6],[131,31.8],[134.4,32.0],[137.8,31.8],[141.2,31.6],[144.6,31.4],[148.9,31.3],[150.6,30.7],[152.3,30.0],[154.3,28.8],[156,27.9],[157.4,27.3],[159.1,27.2],[160.8,26.5],[162.5,25.0],[163.8,24.1],[165.1,25.9],[166.8,27.4],[169.3,28.4],[171.9,29.0],[174.1,29.3],[174.8,28],[176.1,24.7],[177.8,23.7],[179.2,24.4],[180.4,26.6],[182.1,26.9],[182.9,28.2],[184.6,25.6],[186.3,26.2],[188,27.6],[190.6,28.2],[191.8,28.75],[192.8,28.6],[194,24.4],[195.7,23.2],[197.9,22.6],[199.9,23.1],[201.7,25.7],[203.4,27.4],[205.1,27.9],[206.8,25.9],[208.5,26.5],[210.1,26.8],[211.8,28.2],[213.8,28.8],[216.3,29.3],[218.5,29.6],[220.2,29.7],[220.9,28],[222.2,24.4],[223.9,23.5],[225.6,24.0],[226.9,25.4],[228.6,24.9],[229.8,25.4],[231,26.8],[232.3,24.7],[233.7,25.3],[234.3,23.8],[235.7,27.1],[237.7,27.9],[239.9,28.6],[242.4,29.0],[244.4,29.3],[245.4,28],[246.6,24.4],[248.3,24.5],[250,25.7],[251.7,26.4],[252.8,25.3],[254.5,25.0],[256.7,24.6],[257.9,24.3],[259.6,27.8],[261.7,28.8],[262.2,30.6],[262.5,28.9],[264.6,29.4],[267.6,30.0],[271,30.5],[274.3,31.0],[276.9,31.1],[280.2,31.0],[283.6,30.9],[287,30.7],[293.7,30.7],[296.2,31.1],[299.2,31.4],[302.9,31.35],[305.4,31.25],[308,30.95],[310.4,30.9],[310.5,29.3],[310.7,30.9],[313,30.7],[316.4,31.0],[317.2,29],[318.1,26.5],[319.7,25.3],[321.4,25.1],[323.9,26.4],[326.1,25.6],[328.1,24.6],[329.5,25.6],[330.7,26.6],[332.3,29.1],[334,29.3],[336.5,29.7],[339.1,30.3],[340.7,30.4],[341.2,29],[342.9,25.0],[344.6,24.9],[346.3,26.2],[347.5,27.3],[349.1,26.6],[350.8,27.4],[352.5,25.9],[354.2,25.1],[355.9,27.9],[357.6,28.8],[360.1,29.3],[362.6,29.7],[365.1,29.9],[366,28],[367.6,24.4],[369.3,24.3],[371,25.0],[373.5,25.6],[375.2,25.3],[376.9,24.6],[378.9,25.0],[380.3,27.9],[382.8,29.1],[385.3,29.5],[389.5,29.5],[390.3,28],[392,24.4],[394,24.4],[396.2,25.3],[397.9,26.8],[400.4,24.9],[402.1,25.0],[403.8,27.4],[418.1,24.5],[419.2,26.6],[420.6,25.7],[424,25.6],[426,24.7],[427.6,26.8],[429,28.5],[430.7,28.7],[431.5,29.85],[433.2,29.1],[435.7,29.3],[440.8,29.6],[442.4,30.1],[445,30.7],[447.5,30.6],[450.8,30.4],[453.9,30.0],[455.5,30.7],[456,30.7]];
const bTmpTrain = [[0,31.4],[3.3,31.3],[5.5,30.7],[6.7,28.4],[7.9,26.5],[9.2,24.8],[10.9,25.0],[13.5,26.4],[15.2,26.0],[16.4,26.8],[17.7,27.4],[19.4,27.9],[21.5,29.6],[23.7,30.1],[26.3,30.1],[29.7,30.4],[30.5,29.9],[31.7,27.4],[33.1,25.7],[34.4,25.4],[36.1,26.8],[37.8,27.1],[39.3,27.2],[40.7,26.0],[42.4,27.6],[43.6,26.8],[45,28.8],[46.7,30.0],[48.4,30.5],[50.9,30.7],[53.2,31.1],[54.4,29.6],[56.1,27.5],[56.9,27.8],[59,27.0],[60.6,30.3],[62,28.8],[64.6,28.5],[67.1,27.9],[69.7,27.8],[73.1,26.9],[75.6,26.8],[78.2,26.3],[80.7,25.4],[82.5,25.4],[84.1,27.2],[85.8,27.4],[87.5,29.1],[89.2,29.5],[92.6,30.0],[95.2,30.7],[98.6,30.6],[101.2,30.7],[104.3,30.6],[106.3,31.2],[108.8,32.0],[111.4,31.9],[115.7,31.3],[119.1,31.5],[122.5,31.1],[125,31.25],[128.4,30.7],[131,31.3],[134.4,31.9],[138.7,31.2],[142.1,31.25],[145.5,31.0],[148.9,31.2],[150.6,30.6],[153.1,29.0],[155.3,28.1],[157.4,27.5],[159.9,26.6],[161.6,25.6],[163.8,24.6],[165.9,26.9],[168.5,27.9],[171,28.5],[173.1,28.8],[174.8,27.4],[176.1,24.9],[177.5,23.8],[179.2,24.6],[180.4,26.2],[182.1,26.8],[183.8,27.6],[185,25.9],[186.7,26.2],[188.9,28.1],[191.1,27.9],[192.8,27.5],[194.5,23.5],[196.9,23.2],[199.1,22.9],[201.2,24.4],[202.9,26.6],[204.6,27.2],[206.3,26.6],[207.1,26.0],[209.6,26.5],[211.8,28.2],[214.7,28.7],[218.5,29.2],[220.2,28.8],[221.4,24.6],[223.6,23.7],[225.3,24.1],[227.3,25.3],[229.3,24.9],[231.5,26.3],[233.2,24.7],[234.3,24.6],[236,27.5],[238.7,28.2],[241.6,28.7],[243.8,28.8],[245.4,26.6],[247,24.2],[248.8,24.4],[250.5,25.6],[252.2,26.0],[253.8,25.3],[255.9,24.7],[257.9,24.9],[259.6,27.8],[262.2,28.8],[264.6,29.1],[267.6,29.9],[270.6,29.85],[273.5,30.8],[276.4,31.0],[279,30.7],[281.9,30.4],[285.3,30.6],[288.6,30.1],[292,30.6],[294.9,30.2],[297.9,30.95],[300.4,31.3],[302.9,31.1],[305.4,30.7],[308,30.7],[310.5,30.95],[313,30.3],[316.4,30.1],[318.1,25.9],[319.7,25.1],[321.4,25.3],[323.1,25.9],[324.4,26.2],[326.5,25.6],[328.5,24.9],[330.2,25.6],[331.5,27.6],[333.2,29.2],[334,29.3]];
const bTmpTest = [[334,29.3],[336.5,29.6],[339.1,30.0],[340.7,29.7],[342.4,26.6],[344.1,24.5],[345.8,24.9],[347.5,25.9],[349.1,26.6],[350.8,26.8],[353,25.9],[354.7,25.6],[356.7,28.7],[359.2,29.0],[361.8,29.2],[364.3,29.5],[365.5,28.4],[366.8,25.0],[368.5,24.2],[370.5,24.7],[372.7,25.4],[375.2,25.2],[377.2,24.7],[379.4,25.7],[381.1,28.5],[383.6,29.0],[386.1,29.1],[388.3,29.1],[389.5,28.7],[390.7,26.6],[392,24.4],[394,24.5],[396.2,25.4],[397.9,25.6],[399.1,26.5],[401.3,24.9],[402.4,25.3],[404.1,27.1],[407.1,26.2],[409.7,25.7],[412.2,25.5],[414.7,24.9],[417.2,24.4],[419.2,24.4],[420.6,25.8],[423.1,25.7],[425.6,25.1],[427.3,26.0],[429,28.5],[431.5,28.7],[433.7,28.9],[436.6,29.3],[438.2,29.1],[440.4,28.9],[442.1,30.0],[444.5,30.5],[446.6,30.5],[449.2,30.0],[451.7,29.8],[453.9,29.9],[455.5,29.5],[456,29.5]];

// ---------- layout & style ----------
const FONT = '"Liberation Serif","Times New Roman",serif';
const C_BLUE = '#0000c0', C_RED = '#ff0000', C_GREEN = '#00b400';
const layout = [
  { xMax:480, dates:datesA, left:206, right:2366, labMargin:54, widths:[5,4.5,4.5], items:[427,1078,1738],
    modelNames:['FB Prophet - Testing','FB Prophet - Training'], tag:'a', tagPos:[1040,2032],
    rows:[
      {top:54, bottom:586, min:-3, max:3, interval:1, name:'sPMV', nameGap:122, grid:true, actual:'Actual sPMV', data:[aPmvActual,aPmvTest,aPmvTrain], box:[389,498], iconY:550},
      {top:651, bottom:1185, min:30, max:80, interval:10, name:'Relative Humidity %', nameGap:140, actual:'Actual Humidity', data:[aHumActual,aHumTest,aHumTrain], box:[385,1097], iconY:1148},
      {top:1269, bottom:1803, min:15, max:40, interval:5, name:'Temperature (\u00B0C)', nameGap:142, actual:'Actual Temperature', data:[aTmpActual,aTmpTest,aTmpTrain], box:[376,1706], iconY:1761}
    ]},
  { xMax:456, dates:datesB, left:212, right:2366, labMargin:57, widths:[7,5,5], items:[438,1086,1741],
    modelNames:['Hybrid - Testing','Hybrid Train'], tag:'b', tagPos:[1045,4200],
    rows:[
      {top:2194, bottom:2728, min:-3, max:3, interval:1, name:'sPMV', nameGap:124, grid:true, zeroLine:true, actual:'Actual sPMV', data:[bPmvActual,bPmvTest,bPmvTrain], box:[379,2629], iconY:2678},
      {top:2788, bottom:3320, min:30, max:70, interval:10, name:'Relative Humidity (%)', nameGap:144, actual:'Actual Humidity', data:[bHumActual,bHumTest,bHumTrain], box:[383,3220], iconY:3272},
      {top:3372, bottom:3905, min:20, max:35, interval:5, name:'Temperature (\u00B0C)', nameGap:136, actual:'Actual Temperature', data:[bTmpActual,bTmpTest,bTmpTrain], box:[385,3809], iconY:3858}
    ]}
];

const grids = [], xAxes = [], yAxes = [], series = [], legends = [], graphics = [];
let gi = 0;
layout.forEach(p => {
  p.rows.forEach((r, ri) => {
    const isBottom = ri === p.rows.length - 1;
    grids.push({left:p.left, top:r.top, width:p.right - p.left, height:r.bottom - r.top,
      show:true, borderColor:'#000', borderWidth:5, backgroundColor:'rgba(0,0,0,0)', containLabel:false, outerBoundsMode:'none'});
    xAxes.push({type:'value', gridIndex:gi, min:0, max:p.xMax,
      axisLine:{show:true, onZero:false, lineStyle:{color:'#000', width:5}},
      axisTick:{show:isBottom, length:42, lineStyle:{color:'#000', width:4.5}, customValues:tickHours},
      axisLabel:{show:isBottom, rotate:45, margin:58, fontFamily:FONT, fontSize:50, color:'#000',
        customValues:tickHours, formatter:v => p.dates[Math.round(v / 48)] || ''},
      splitLine:{show:false}});
    const splitColor = r.zeroLine ? ['#000','#000','#000','rgba(0,0,0,0)','#000','#000','#000'] : '#000';
    yAxes.push({type:'value', gridIndex:gi, min:r.min, max:r.max, interval:r.interval,
      name:r.name, nameLocation:'middle', nameGap:r.nameGap, nameRotate:90,
      nameTextStyle:{fontFamily:FONT, fontSize:46, fontWeight:'bold', color:'#000'},
      axisLine:{show:true, onZero:false, lineStyle:{color:'#000', width:5}},
      axisTick:{show:true, inside:false, length:42, lineStyle:{color:'#000', width:4.5}},
      minorTick:{show:true, splitNumber:5, length:22, lineStyle:{color:'#000', width:4.5}},
      axisLabel:{fontFamily:FONT, fontSize:46, color:'#000', margin:p.labMargin,
        formatter:v => String(v).replace('-', '\u2212')},
      splitLine:r.grid ? {show:true, lineStyle:{color:splitColor, width:3.5, type:[5,6]}} : {show:false},
      minorSplitLine:{show:false}});
    const names = [r.actual, p.modelNames[0], p.modelNames[1]];
    const colors = [C_BLUE, C_RED, C_GREEN];
    names.forEach((nm, k) => {
      const s = {type:'line', name:nm, data:r.data[k], xAxisIndex:gi, yAxisIndex:gi,
        color:colors[k], showSymbol:false, symbol:'none', animation:false, z:2 + (k === 0 ? 0 : 1),
        lineStyle:{width:p.widths[k], color:colors[k]}, emphasis:{disabled:true}};
      if (k === 0 && r.zeroLine) {
        s.markLine = {silent:true, symbol:['none','none'], label:{show:false}, animation:false,
          data:[
            {yAxis:0, lineStyle:{color:'#000', width:10, type:[0.1,32.4], cap:'round'}},
            {yAxis:0, lineStyle:{color:'#000', width:4, type:[9,23.5], dashOffset:20.5}}
          ]};
      }
      series.push(s);
      legends.push({data:[nm], left:p.items[k], top:r.iconY - 27, orient:'horizontal',
        icon:'rect', itemWidth:116, itemHeight:6, itemGap:0, padding:0, selectedMode:false,
        textStyle:{fontFamily:FONT, fontSize:47, color:'#000', padding:[0,0,0,61]}});
    });
    graphics.push({type:'rect', silent:true, z:10,
      shape:{x:r.box[0], y:r.box[1], width:p.right - r.box[0], height:r.bottom - r.box[1]},
      style:{fill:'none', stroke:'#000', lineWidth:5}});
    gi++;
  });
  graphics.push({type:'text', silent:true, x:p.tagPos[0], y:p.tagPos[1],
    style:{text:'{n|(}{b|' + p.tag + '}{n|)}', align:'center', verticalAlign:'middle', fill:'#000',
      rich:{n:{fontFamily:FONT, fontSize:60, fill:'#000'}, b:{fontFamily:FONT, fontSize:60, fontWeight:'bold', fill:'#000'}}}});
});

// fit the 2373x4269 figure into the actual viewport if it is smaller
const box = document.getElementById('c');
const vw = window.innerWidth || 2373, vh = window.innerHeight || 4269;
const sx = Math.min(1, vw / 2373), sy = Math.min(1, vh / 4269);
if (sx < 0.999 || sy < 0.999) box.style.transform = 'scale(' + sx + ',' + sy + ')';

const chart = echarts.init(box, null, {renderer:'svg', width:2373, height:4269});
chart.setOption({
  animation:false,
  backgroundColor:'#fff',
  grid:grids, xAxis:xAxes, yAxis:yAxes, series:series, legend:legends, graphic:graphics,
  tooltip:{show:false}
});
</script>
</body></html>
